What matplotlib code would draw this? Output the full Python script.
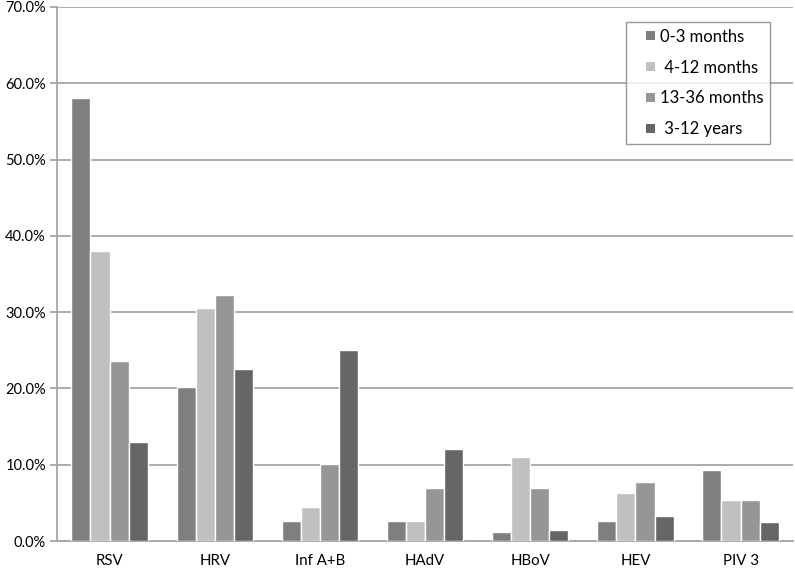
import matplotlib.pyplot as plt
import matplotlib.patches as mpatches
from matplotlib.container import BarContainer
from matplotlib.legend_handler import HandlerPatch, update_from_first_child
import numpy as np

plt.rcParams['font.family'] = ['Lato', 'DejaVu Sans']

categories = ['RSV', 'HRV', 'Inf A+B', 'HAdV', 'HBoV', 'HEV', 'PIV 3']
series_labels = ['0-3 months', ' 4-12 months', '13-36 months', ' 3-12 years']
months_0_3 = [58.1, 20.2, 2.6, 2.6, 1.2, 2.6, 9.3]
months_4_12 = [38.0, 30.6, 4.5, 2.6, 11.0, 6.3, 5.4]
months_13_36 = [23.6, 32.3, 10.1, 7.0, 7.0, 7.8, 5.4]
years_3_12 = [13.0, 22.6, 25.1, 12.1, 1.5, 3.3, 2.5]
colors = ['#7f7f7f', '#c0c0c0', '#969696', '#666666']


def small_square(legend, orig_handle, xdescent, ydescent, width, height, fontsize):
    # square sits at the right end of a wider handle box (Excel-like padding)
    side = 0.52 * fontsize
    return mpatches.Rectangle((width - side - xdescent, (height - side) / 2 - ydescent),
                              side, side)


fig = plt.figure(figsize=(7.95, 5.69), dpi=100)
ax = fig.add_axes([0.0717, 0.0492, 0.926, 0.9385])

x = np.arange(len(categories))
width = 1 / 5.5
all_series = [months_0_3, months_4_12, months_13_36, years_3_12]
for i, (vals, lab, col) in enumerate(zip(all_series, series_labels, colors)):
    offs = (i - 1.5) * width
    ax.bar(x + offs, vals, width, color=col, edgecolor='white', linewidth=1.0,
           label=lab, zorder=3)

ax.set_xlim(-0.5, len(categories) - 0.5)
ax.set_ylim(0, 70)
ax.set_yticks(np.arange(0, 71, 10))
ax.set_yticklabels(['{:.1f}%'.format(v) for v in np.arange(0, 71, 10)])
ax.set_xticks(x)
ax.set_xticklabels(categories)
ax.yaxis.grid(True, color='#a6a6a6', linewidth=1.3, zorder=0)
ax.set_axisbelow(True)

for s in ['top', 'right']:
    ax.spines[s].set_visible(False)
for s in ['left', 'bottom']:
    ax.spines[s].set_color('#a6a6a6')
    ax.spines[s].set_linewidth(1.3)

ax.tick_params(axis='y', length=5, color='#a6a6a6', width=1.3, labelsize=10.5, pad=3)
ax.tick_params(axis='x', length=0, labelsize=10.8, pad=9)

handler = HandlerPatch(patch_func=small_square, update_func=update_from_first_child)
leg = ax.legend(loc='upper right', bbox_to_anchor=(770 / 795, 1 - 22 / 569),
                bbox_transform=fig.transFigure, frameon=True,
                fancybox=False, edgecolor='#808080', fontsize=12,
                handlelength=1.32, handleheight=0.55, labelspacing=0.89,
                borderpad=0.4, handletextpad=0.3, borderaxespad=0,
                handler_map={BarContainer: handler})
leg.get_frame().set_linewidth(1.0)
for h in leg.legend_handles:
    h.set_edgecolor('none')

plt.savefig('out.png', dpi=100)
